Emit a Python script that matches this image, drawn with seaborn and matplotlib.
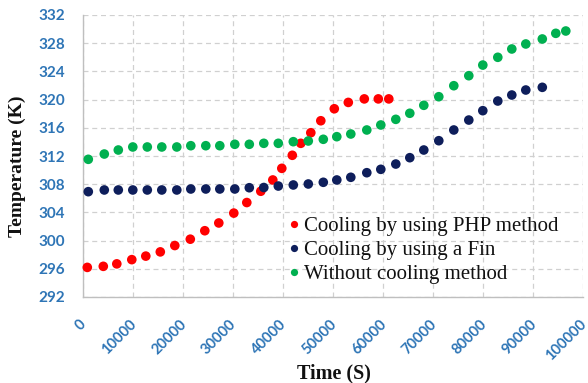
import matplotlib
matplotlib.use("Agg")
import matplotlib.pyplot as plt
import matplotlib.transforms as mtransforms
import seaborn as sns
import pandas as pd

# Time (s) and temperature (K) for each cooling configuration
php_time = [800, 4000, 6700, 9700, 12500, 15400, 18300, 21400, 24300, 27100,
            30100, 32700, 35500, 37900, 39700, 41800, 43500, 45500, 47500,
            50200, 53000, 56200, 59000, 61100]
php_temp = [296.2, 296.35, 296.7, 297.3, 297.8, 298.4, 299.3, 300.2, 301.4,
            302.5, 303.9, 305.4, 307.0, 308.6, 310.25, 312.1, 313.8, 315.3,
            317.0, 318.7, 319.6, 320.1, 320.1, 320.1]

fin_time = [1000, 4200, 7000, 9900, 12800, 15700, 18700, 21500, 24500, 27300,
            30300, 33200, 36100, 39000, 42000, 45000, 48000, 50700, 53500,
            56700, 59500, 62500, 65300, 68100, 71100, 74100, 77100, 79900,
            82900, 85700, 88500, 91800]
fin_temp = [306.94, 307.18, 307.18, 307.18, 307.18, 307.18, 307.18, 307.32,
            307.32, 307.32, 307.32, 307.5, 307.53, 307.74, 307.89, 308.03,
            308.27, 308.6, 308.98, 309.63, 310.11, 310.86, 311.76, 312.85,
            314.17, 315.69, 317.1, 318.43, 319.8, 320.65, 321.36, 321.74]

none_time = [1000, 4200, 7000, 9900, 12800, 15700, 18700, 21500, 24500, 27300,
             30300, 33200, 36100, 39000, 42000, 45000, 48000, 50700, 53500,
             56700, 59500, 62500, 65300, 68100, 71100, 74100, 77100, 79900,
             82900, 85700, 88500, 91800, 94500, 96500]
none_temp = [311.53, 312.28, 312.85, 313.28, 313.28, 313.28, 313.28, 313.46,
             313.46, 313.46, 313.66, 313.66, 313.8, 313.8, 314.03, 314.13,
             314.37, 314.74, 315.12, 315.69, 316.4, 317.2, 318.06, 319.19,
             320.41, 321.97, 323.39, 324.9, 326.0, 327.18, 327.89, 328.6,
             329.4, 329.73]

labels = ["Cooling by using PHP method", "Cooling by using a Fin",
          "Without cooling method"]
colors = ["#FF0000", "#0E1E5B", "#00B050"]

y_ticks = [292, 296, 300, 304, 308, 312, 316, 320, 324, 328, 332]
x_ticks = [0, 10000, 20000, 30000, 40000, 50000, 60000, 70000, 80000, 90000, 100000]

df = pd.concat([
    pd.DataFrame({"Time": php_time, "Temp": php_temp, "Series": labels[0]}),
    pd.DataFrame({"Time": fin_time, "Temp": fin_temp, "Series": labels[1]}),
    pd.DataFrame({"Time": none_time, "Temp": none_temp, "Series": labels[2]}),
], ignore_index=True)

sns.set_style("white")
fig = plt.figure(figsize=(5.88, 3.83), dpi=100)
ax = fig.add_axes([83.3 / 588, 1 - 297 / 383, 500 / 588, 282 / 383])

sns.scatterplot(data=df, x="Time", y="Temp", hue="Series",
                palette=dict(zip(labels, colors)), s=48, edgecolor="none",
                ax=ax, zorder=3, clip_on=False)

ax.set_xlim(0, 100000)
ax.set_ylim(292, 332)
ax.set_xticks(x_ticks)
ax.set_yticks(y_ticks)
ax.set_xticklabels([str(v) for v in x_ticks])
ax.set_yticklabels([str(v) for v in y_ticks])

tick_color = "#2E75B6"
for lab in ax.get_yticklabels():
    lab.set_fontfamily("Lato")
    lab.set_fontweight("bold")
    lab.set_fontsize(11)
    lab.set_color(tick_color)

ax.grid(True, color="#D0D0D0", linestyle=(0, (4, 3)), linewidth=0.9)
ax.set_axisbelow(True)
for side in ["top", "right"]:
    ax.spines[side].set_visible(False)
for side in ["left", "bottom"]:
    ax.spines[side].set_color("#BFBFBF")
    ax.spines[side].set_linewidth(1.0)
ax.tick_params(axis="both", which="both", direction="out", length=4,
               color="#BFBFBF", width=1.0)
ax.tick_params(axis="y", pad=9)
ax.tick_params(axis="x", pad=10)

# rotated time labels, nudged slightly left of their ticks
nudge = mtransforms.ScaledTranslation(-4 / 100, -1 / 100, fig.dpi_scale_trans)
for tick in ax.xaxis.get_major_ticks():
    lab = tick.label1
    lab.set_fontfamily("Lato")
    lab.set_fontweight("bold")
    lab.set_fontsize(10.5)
    lab.set_color(tick_color)
    lab.set_rotation(45)
    lab.set_ha("right")
    lab.set_va("top")
    lab.set_rotation_mode("anchor")
    lab.set_transform(lab.get_transform() + nudge)

ax.set_xlabel("")
ax.set_ylabel("")
fig.text(17 / 588, 1 - 166 / 383, "Temperature (K)", rotation=90,
         ha="center", va="center", fontfamily="Liberation Serif",
         fontweight="bold", fontsize=14, color="#111111")
fig.text(334 / 588, 1 - 373 / 383, "Time (S)", ha="center", va="center",
         fontfamily="Liberation Serif", fontweight="bold", fontsize=14.5,
         color="#111111")

leg = ax.legend(loc="upper left", bbox_to_anchor=(0.385, 0.315), frameon=False,
                handletextpad=0.05, labelspacing=0.22, borderaxespad=0,
                handlelength=0.9, markerscale=0.75,
                prop={"family": "Liberation Serif", "size": 15})
for t in leg.get_texts():
    t.set_color("#111111")

fig.savefig("out.png", dpi=100)
